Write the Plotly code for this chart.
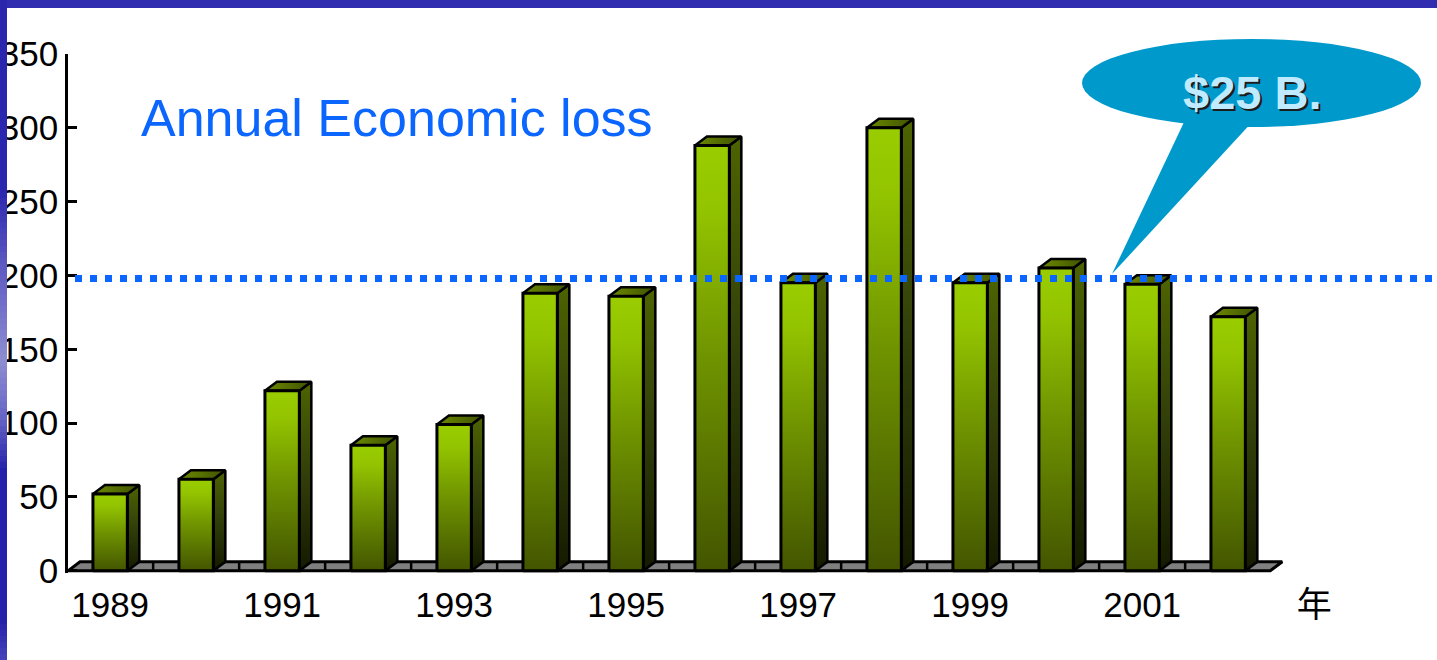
import plotly.graph_objects as go

# ---------------- data ----------------
years = list(range(1989, 2003))
losses = [52, 62, 122, 85, 99, 188, 186, 288, 195, 300, 195, 205, 194, 172]
avg_loss = 198
tick_years = [1989, 1991, 1993, 1995, 1997, 1999, 2001]
unit_label = "年"
title_text = "Annual Economic loss"
callout_text = "$25 B."
y_ticks = [0, 50, 100, 150, 200, 250, 300, 350]

# ---------------- geometry / style ----------------
W, H = 1437, 660
ML, MT, PH = 68, 54, 519
PW = W - ML
X0 = -0.49
PX_PER_CAT = 86.0
X1 = X0 + PW / PX_PER_CAT
Y0, Y1 = -1.5, 350
PX_PER_VAL = PH / (Y1 - Y0)
DX = 12 / PX_PER_CAT          # depth offset (x, data units)
DY = 9 / PX_PER_VAL           # depth offset (y, data units)
HALF = 0.2                    # half bar width

def px(xp):
    return (xp - ML) / PW

def py(yp):
    return (MT + PH - yp) / PH

FONT = "Liberation Sans, Arial, Noto Sans CJK SC, sans-serif"

fig = go.Figure()
idx = list(range(len(years)))

# floor
n = len(years)
fx0, fx1 = X0, n - 0.51
fig.add_trace(go.Scatter(
    x=[fx0, fx1, fx1 + DX, fx0 + DX, fx0],
    y=[0, 0, DY, DY, 0],
    fill="toself", fillcolor="#7f7f7f", mode="lines",
    line=dict(color="black", width=3), hoverinfo="skip", showlegend=False))
for k in range(n - 1):
    xb = k + 0.5
    fig.add_trace(go.Scatter(
        x=[xb, xb], y=[0, DY], mode="lines",
        line=dict(color="black", width=2.5), hoverinfo="skip", showlegend=False))

# bars (side, top, front faces)
for i, v in zip(idx, losses):
    l, r = i - HALF, i + HALF
    fig.add_trace(go.Scatter(
        x=[r, r + DX, r + DX, r, r], y=[0, DY, v + DY, v, 0],
        fill="toself", mode="lines", line=dict(color="black", width=2.5),
        fillgradient=dict(type="vertical",
                          colorscale=[[0, "#141a00"], [0.55, "#34420a"], [1, "#4d6400"]]),
        hoverinfo="skip", showlegend=False))
    fig.add_trace(go.Scatter(
        x=[l, r, r + DX, l + DX, l], y=[v, v, v + DY, v + DY, v],
        fill="toself", mode="lines", line=dict(color="black", width=2.5),
        fillgradient=dict(type="horizontal",
                          colorscale=[[0, "#6c8a00"], [1, "#3f5200"]]),
        hoverinfo="skip", showlegend=False))
    fig.add_trace(go.Scatter(
        x=[l, r, r, l, l], y=[0, 0, v, v, 0],
        fill="toself", mode="lines", line=dict(color="black", width=3),
        fillgradient=dict(type="vertical",
                          colorscale=[[0, "#435500"], [0.5, "#6f9300"], [0.85, "#93c400"], [1, "#9acd00"]]),
        hoverinfo="skip", showlegend=False))

shapes = []
# dotted average line
shapes.append(dict(type="line", xref="paper", yref="y", x0=px(75), x1=1.0,
                   y0=avg_loss, y1=avg_loss, layer="above",
                   line=dict(color="#0a66ff", width=7, dash="7px,8px")))
# callout bubble
shapes.append(dict(type="path", xref="paper", yref="paper", layer="above",
                   path=f"M {px(1186)},{py(118)} L {px(1254)},{py(120)} L {px(1112)},{py(274)} Z",
                   fillcolor="#0099cc", line=dict(width=0)))
shapes.append(dict(type="circle", xref="paper", yref="paper", layer="above",
                   x0=px(1082), x1=px(1421), y0=py(127), y1=py(39),
                   fillcolor="#0099cc", line=dict(width=0)))
# slide frame: top band
shapes.append(dict(type="rect", xref="paper", yref="paper", layer="above",
                   x0=px(0), x1=px(W), y0=py(8), y1=py(-2),
                   fillcolor="#302db0", line=dict(width=0)))
# slide frame: left band with vertical colour variation
stops = [(0, (42, 38, 174)), (190, (42, 38, 174)), (260, (90, 86, 192)),
         (360, (142, 142, 210)), (420, (100, 98, 196)), (470, (36, 33, 170)),
         (620, (36, 33, 170)), (660, (70, 68, 185))]
def col_at(y):
    for (ya, ca), (yb, cb) in zip(stops[:-1], stops[1:]):
        if ya <= y <= yb:
            t = (y - ya) / (yb - ya) if yb > ya else 0
            c = [round(a + (b - a) * t) for a, b in zip(ca, cb)]
            return f"rgb({c[0]},{c[1]},{c[2]})"
    return "rgb(42,38,174)"
step = 6
for ys in range(0, H, step):
    shapes.append(dict(type="rect", xref="paper", yref="paper", layer="above",
                       x0=px(-1), x1=px(7), y0=py(ys + step + 0.5), y1=py(ys),
                       fillcolor=col_at(ys + step / 2), line=dict(width=0)))

annotations = [
    dict(text=title_text, xref="paper", yref="paper", x=px(139), y=py(118),
         xanchor="left", yanchor="middle", showarrow=False,
         font=dict(family=FONT, size=52, color="#0a66ff")),
    dict(text=f"<b>{callout_text}</b>", xref="paper", yref="paper", x=px(1254), y=py(94),
         xanchor="center", yanchor="middle", showarrow=False,
         font=dict(family=FONT, size=47, color="#1c1c1c")),
    dict(text=f"<b>{callout_text}</b>", xref="paper", yref="paper", x=px(1252), y=py(92),
         xanchor="center", yanchor="middle", showarrow=False,
         font=dict(family=FONT, size=47, color="#bfeaff")),
]

tickvals = [years.index(y) for y in tick_years] + [len(years)]
ticktext = [str(y) for y in tick_years] + [unit_label]

fig.update_layout(
    width=W, height=H,
    margin=dict(l=ML, r=0, t=MT, b=H - MT - PH, pad=0),
    paper_bgcolor="white", plot_bgcolor="white",
    showlegend=False,
    shapes=shapes, annotations=annotations,
    xaxis=dict(range=[X0, X1], tickvals=tickvals, ticktext=ticktext,
               showgrid=False, zeroline=False, showline=False, ticks="",
               ticklabelstandoff=8,
               tickfont=dict(family=FONT, size=35, color="black"),
               fixedrange=True),
    yaxis=dict(range=[Y0, Y1], tickvals=y_ticks, showgrid=False, zeroline=False,
               showline=True, linecolor="black", linewidth=2.5,
               ticks="inside", ticklen=9, tickwidth=2.5, tickcolor="black",
               tickfont=dict(family=FONT, size=35, color="black"),
               fixedrange=True),
)

fig.write_html("out.html")
